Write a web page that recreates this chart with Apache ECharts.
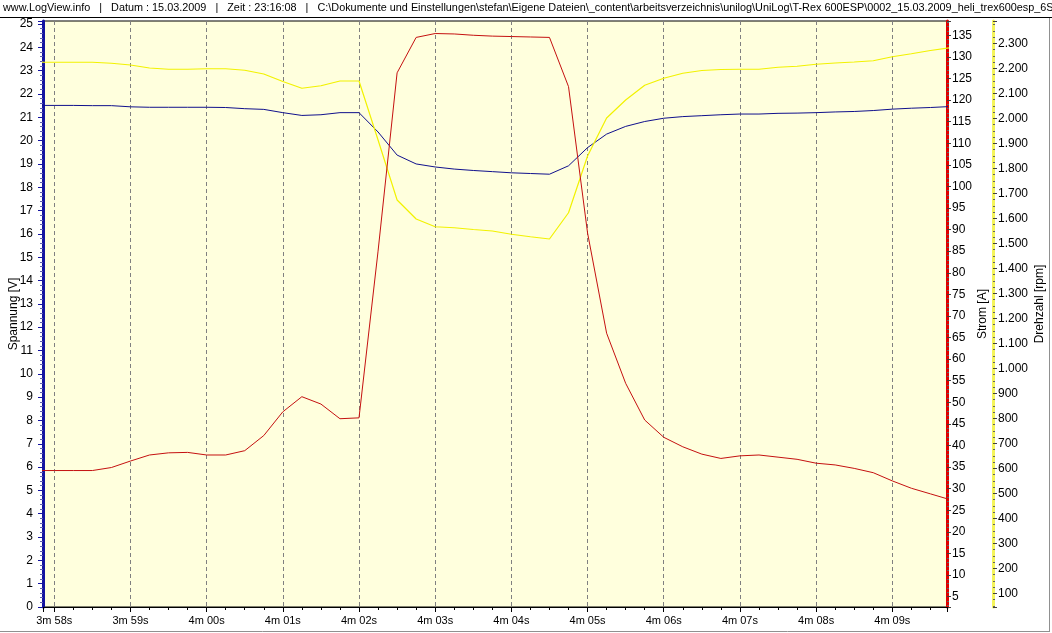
<!DOCTYPE html>
<html>
<head>
<meta charset="utf-8">
<script src="https://cdn.jsdelivr.net/npm/echarts@6/dist/echarts.min.js"></script>
<style>
html,body{margin:0;padding:0;background:#fff;}
#chart{width:1052px;height:633px;}
</style>
</head>
<body>
<div id="chart"></div>
<script>
// ---- data (time in seconds since log start, sampled every 0.25 s) ----
const headerText = 'www.LogView.info   |   Datum : 15.03.2009   |   Zeit : 23:16:08   |   C:\\Dokumente und Einstellungen\\stefan\\Eigene Dateien\\_content\\arbeitsverzeichnis\\unilog\\UniLog\\T-Rex 600ESP\\0002_15.03.2009_heli_trex600esp_6S_';
const axisNames = ['Spannung [V]', 'Strom [A]', 'Drehzahl [rpm]'];

const times = [
  237.75, 238.00, 238.25, 238.50, 238.75, 239.00, 239.25, 239.50, 239.75, 240.00,
  240.25, 240.50, 240.75, 241.00, 241.25, 241.50, 241.75, 242.00, 242.25, 242.50,
  242.75, 243.00, 243.25, 243.50, 243.75, 244.00, 244.25, 244.50, 244.75, 245.00,
  245.25, 245.50, 245.75, 246.00, 246.25, 246.50, 246.75, 247.00, 247.25, 247.50,
  247.75, 248.00, 248.25, 248.50, 248.75, 249.00, 249.25, 249.50, 249.75
];
const voltage = [
  21.51, 21.51, 21.51, 21.50, 21.50, 21.45, 21.43, 21.43, 21.43, 21.43,
  21.42, 21.37, 21.34, 21.20, 21.08, 21.11, 21.20, 21.20, 20.37, 19.38,
  19.00, 18.87, 18.78, 18.72, 18.67, 18.62, 18.59, 18.56, 18.92, 19.70,
  20.28, 20.61, 20.82, 20.96, 21.03, 21.07, 21.11, 21.14, 21.14, 21.17,
  21.18, 21.20, 21.23, 21.25, 21.29, 21.35, 21.39, 21.42, 21.46
];
const current = [
  34.2, 34.2, 34.2, 34.2, 34.9, 36.4, 37.8, 38.3, 38.4, 37.8,
  37.8, 38.8, 42.3, 47.8, 51.3, 49.6, 46.2, 46.4, 85.0, 126.3,
  134.5, 135.4, 135.3, 135.0, 134.8, 134.7, 134.6, 134.5, 123.1, 89.2,
  66.0, 54.4, 45.9, 41.9, 39.7, 38.0, 37.0, 37.6, 37.8, 37.3,
  36.8, 35.9, 35.5, 34.7, 33.7, 31.8, 30.1, 28.8, 27.5
];
const rpm = [
  2224, 2224, 2224, 2224, 2220, 2213, 2201, 2196, 2196, 2198,
  2198, 2192, 2177, 2147, 2120, 2130, 2149, 2149, 1913, 1673,
  1597, 1566, 1562, 1555, 1549, 1536, 1526, 1517, 1622, 1849,
  2001, 2073, 2132, 2160, 2180, 2191, 2195, 2196, 2196, 2204,
  2208, 2216, 2221, 2225, 2230, 2246, 2258, 2271, 2282
];

// axis ranges (visible window of the log)
const timeRange = [237.852, 249.718];
const voltRange = [0, 25.13];
const ampRange = [2.6, 138.3];
const rpmRange = [45, 2389];

// ---- helpers ----
const FONT = '"Liberation Sans", Arial, sans-serif';
function isMultiple(v, step) {
  const q = v / step;
  return Math.abs(q - Math.round(q)) < 1e-6;
}
function fmtTime(v) {
  if (!isMultiple(v, 1)) return '';
  const s = Math.round(v);
  const m = Math.floor(s / 60);
  const ss = s % 60;
  return m + 'm ' + (ss < 10 ? '0' : '') + ss + 's';
}
function fmtVolt(v) { return isMultiple(v, 1) ? String(Math.round(v)) : ''; }
function fmtAmp(v) { return isMultiple(v, 5) ? String(Math.round(v)) : ''; }
function fmtRpm(v) {
  if (!isMultiple(v, 100)) return '';
  const n = Math.round(v);
  if (n >= 1000) return Math.floor(n / 1000) + '.' + String(n % 1000).padStart(3, '0');
  return String(n);
}
const pairs = arr => times.map((t, i) => [t, arr[i]]);

const chart = echarts.init(document.getElementById('chart'), null, {renderer: 'canvas'});
const labelStyle = {color: '#000', fontSize: 12, fontFamily: FONT};
const nameStyle = {color: '#000', fontSize: 12, fontFamily: FONT};

chart.setOption({
  animation: false,
  backgroundColor: '#ffffff',
  grid: {
    left: 43, right: 105, top: 21, bottom: 26,
    containLabel: false, outerBoundsMode: 'none',
    show: true, backgroundColor: '#FFFFDD', borderColor: '#000', borderWidth: 1
  },
  graphic: [
    {type: 'text', left: 3, top: 2, z: 10,
     style: {text: headerText, fill: '#000', font: '10.85px ' + FONT}},
    {type: 'line', z: 10, shape: {x1: 0, y1: 17.5, x2: 1052, y2: 17.5},
     style: {stroke: '#000', lineWidth: 1}},
    {type: 'line', z: 10, shape: {x1: 1049.5, y1: 18, x2: 1049.5, y2: 632},
     style: {stroke: '#909090', lineWidth: 1}},
    {type: 'line', z: 10, shape: {x1: 0, y1: 631.5, x2: 1050, y2: 631.5},
     style: {stroke: '#909090', lineWidth: 1}}
  ],
  xAxis: {
    type: 'value',
    min: timeRange[0], max: timeRange[1],
    minInterval: 1, maxInterval: 1, splitNumber: 11,
    axisLine: {show: true, onZero: false, lineStyle: {color: '#000', width: 1}},
    axisTick: {show: true, length: 5, lineStyle: {color: '#000'}},
    minorTick: {show: true, splitNumber: 4, length: 3, lineStyle: {color: '#000'}},
    splitLine: {show: true, lineStyle: {color: '#808080', width: 1, type: [4, 3]}},
    axisLabel: Object.assign({}, labelStyle, {fontSize: 11, margin: 8, formatter: fmtTime})
  },
  yAxis: [
    {
      type: 'value', position: 'left',
      min: voltRange[0], max: voltRange[1], interval: 1,
      name: axisNames[0], nameLocation: 'middle', nameGap: 23, nameRotate: 90,
      nameMoveOverlap: false,
      nameTextStyle: nameStyle,
      axisLine: {show: true, onZero: false, lineStyle: {color: '#1414A0', width: 3}},
      axisTick: {show: true, length: 5, lineStyle: {color: '#1414A0'}},
      minorTick: {show: true, splitNumber: 5, length: 3, lineStyle: {color: '#6060B0'}},
      splitLine: {show: false},
      axisLabel: Object.assign({}, labelStyle, {margin: 10, formatter: fmtVolt})
    },
    {
      type: 'value', position: 'right', offset: 0,
      min: ampRange[0], max: ampRange[1],
      minInterval: 5, maxInterval: 5, splitNumber: 27,
      name: axisNames[1], nameLocation: 'middle', nameGap: 30, nameRotate: 90,
      nameMoveOverlap: false,
      nameTextStyle: nameStyle,
      axisLine: {show: true, onZero: false, lineStyle: {color: '#E00000', width: 3}},
      axisTick: {show: true, length: 4, lineStyle: {color: '#404040'}},
      minorTick: {show: true, splitNumber: 5, length: 2, lineStyle: {color: '#606060'}},
      splitLine: {show: false},
      axisLabel: Object.assign({}, labelStyle, {margin: 5, formatter: fmtAmp})
    },
    {
      type: 'value', position: 'right', offset: 46,
      min: rpmRange[0], max: rpmRange[1],
      minInterval: 100, maxInterval: 100, splitNumber: 23,
      name: axisNames[2], nameLocation: 'middle', nameGap: 41, nameRotate: 90,
      nameMoveOverlap: false,
      nameTextStyle: Object.assign({}, nameStyle, {padding: [0, 0, 0, 20]}),
      axisLine: {show: true, onZero: false, lineStyle: {color: '#F4F45A', width: 3}},
      axisTick: {show: true, length: 4, lineStyle: {color: '#404040'}},
      minorTick: {show: true, splitNumber: 4, length: 2, lineStyle: {color: '#606060'}},
      splitLine: {show: false},
      axisLabel: Object.assign({}, labelStyle, {margin: 5, formatter: fmtRpm})
    }
  ],
  series: [
    {type: 'line', name: axisNames[0], yAxisIndex: 0, data: pairs(voltage),
     showSymbol: false, symbol: 'none', lineStyle: {color: '#10108C', width: 1}, clip: true},
    {type: 'line', name: axisNames[2], yAxisIndex: 2, data: pairs(rpm),
     showSymbol: false, symbol: 'none', lineStyle: {color: '#F2F200', width: 1.2}, clip: true},
    {type: 'line', name: axisNames[1], yAxisIndex: 1, data: pairs(current),
     showSymbol: false, symbol: 'none', lineStyle: {color: '#C41010', width: 1}, clip: true}
  ]
});
</script>
</body>
</html>
